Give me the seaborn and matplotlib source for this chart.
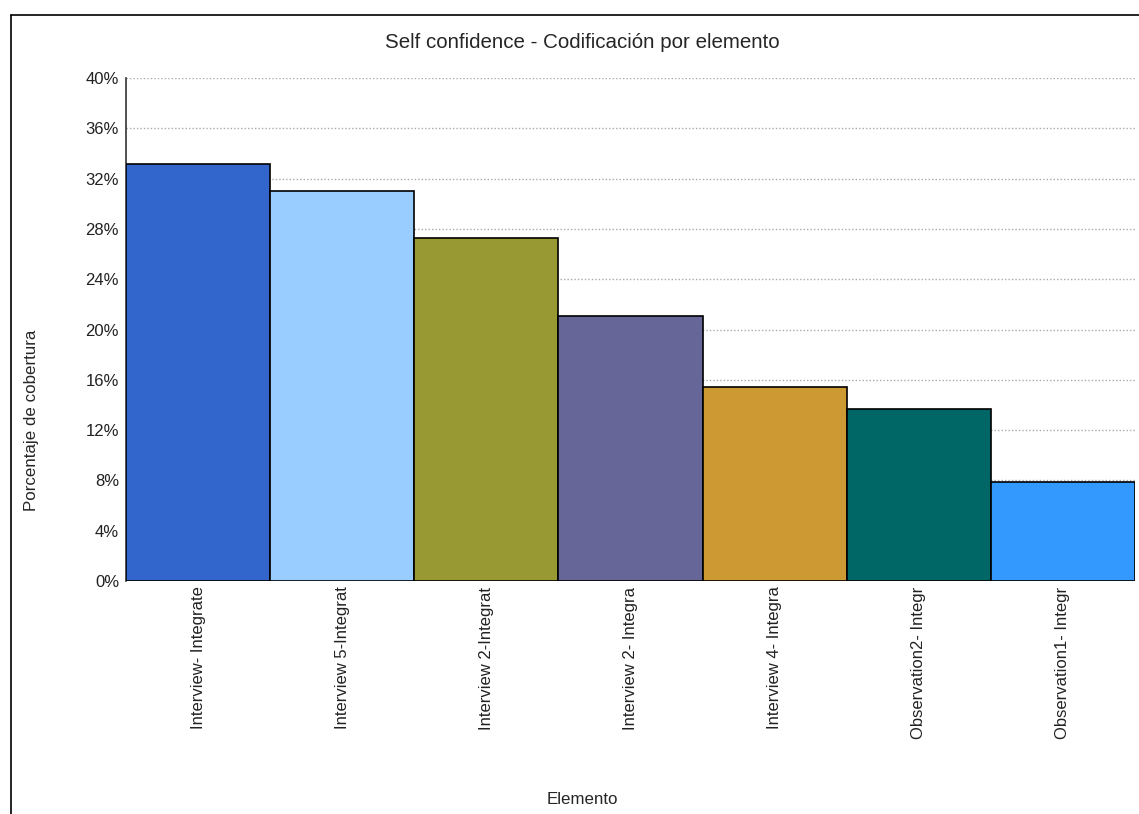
import pandas as pd
import seaborn as sns
from matplotlib import pyplot as plt
from matplotlib.lines import Line2D
from matplotlib.ticker import MultipleLocator, FuncFormatter

elementos = ["Interview- Integrate", "Interview 5-Integrat", "Interview 2-Integrat",
             "Interview 2- Integra", "Interview 4- Integra", "Observation2- Integr",
             "Observation1- Integr"]
cobertura = [33.2, 31.0, 27.3, 21.1, 15.4, 13.7, 7.9]
colores = ["#3366CC", "#99CCFF", "#999933", "#666699", "#CC9933", "#006666", "#3399FF"]

df = pd.DataFrame({"Elemento": elementos, "Cobertura": cobertura})

sns.set_style("white")
plt.rcParams['font.family'] = ['Liberation Sans', 'DejaVu Sans']

fig = plt.figure(figsize=(11.39, 8.14), dpi=100)
ax = fig.add_axes([126 / 1139, 1 - 581 / 814, 1009 / 1139, 503 / 814])

sns.barplot(data=df, x="Elemento", y="Cobertura", hue="Elemento", palette=colores,
            legend=False, width=1.0, edgecolor="black", linewidth=1.2, saturation=1, ax=ax, zorder=3)

ax.set_ylim(0, 40)
ax.set_xlim(-0.5, len(elementos) - 0.5)
ax.yaxis.set_major_locator(MultipleLocator(4))
ax.yaxis.set_major_formatter(FuncFormatter(lambda v, p: f"{v:.0f}%"))
ax.grid(axis="y", color="#aaaaaa", linestyle=(0, (1, 1.5)), linewidth=1, zorder=0)

for s in ["top", "right", "bottom"]:
    ax.spines[s].set_visible(False)
ax.spines["left"].set_color("#333333")
ax.spines["left"].set_linewidth(1.2)

ax.tick_params(axis="y", labelsize=12, length=0, pad=5, labelcolor="#222222")
ax.tick_params(axis="x", labelsize=12, length=0, pad=4, labelrotation=90, labelcolor="#222222")
ax.set_xlabel("")
ax.set_ylabel("")

fig.text(582 / 1139, 1 - 42 / 814, "Self confidence - Codificación por elemento",
         ha="center", va="center", fontsize=14.8)
fig.text(32 / 1139, 1 - 420 / 814, "Porcentaje de cobertura", rotation=90,
         ha="center", va="center", fontsize=12.2)
fig.text(582 / 1139, 1 - 799 / 814, "Elemento", ha="center", va="center", fontsize=12.2)

# marco exterior
x0, y0 = 10.5 / 1139, 1 - 14.5 / 814
fig.add_artist(Line2D([x0, x0], [0, y0], color="black", linewidth=1.2, transform=fig.transFigure))
fig.add_artist(Line2D([x0, 1], [y0, y0], color="black", linewidth=1.2, transform=fig.transFigure))

plt.savefig("out.png", dpi=100)
